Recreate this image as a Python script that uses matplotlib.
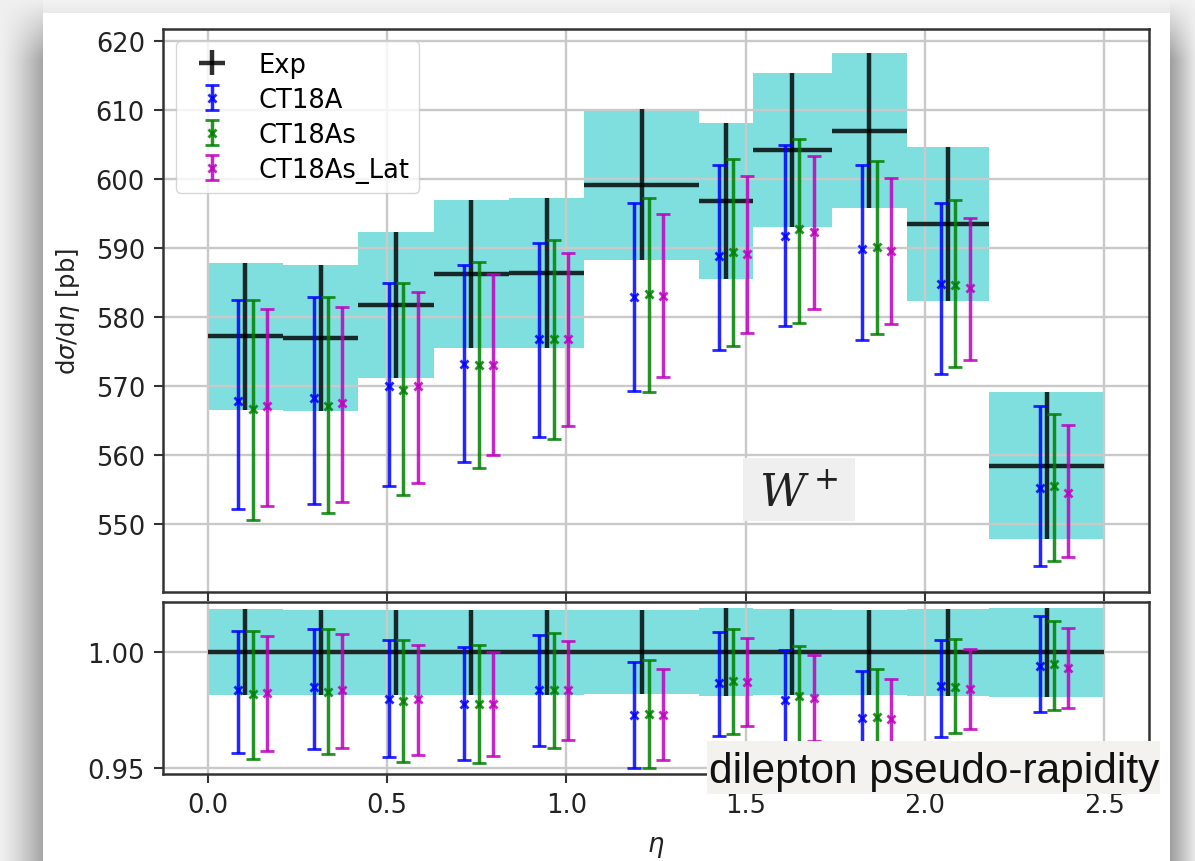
import numpy as np
import matplotlib
matplotlib.use('Agg')
import matplotlib.pyplot as plt
from matplotlib.patches import Rectangle
from matplotlib.ticker import MultipleLocator, FormatStrFormatter

# ---------------- data ----------------
bin_edges = [0.0, 0.21, 0.42, 0.63, 0.84, 1.05, 1.37, 1.52, 1.74, 1.95, 2.18, 2.5]

exp_val = [577.2, 577.0, 581.8, 586.2, 586.4, 599.2, 596.8, 604.2, 607.0, 593.5, 558.5]
exp_err = [10.7, 10.6, 10.6, 10.7, 10.8, 10.9, 11.3, 11.2, 11.2, 11.1, 10.65]

ct18a_val = [567.9, 568.3, 570.0, 573.2, 576.9, 582.9, 588.8, 591.8, 589.9, 584.8, 555.3]
ct18a_lo  = [552.2, 553.0, 555.6, 559.0, 562.7, 569.3, 575.3, 578.7, 576.7, 571.8, 544.0]
ct18a_hi  = [582.5, 582.9, 584.9, 587.6, 590.7, 596.6, 602.1, 604.9, 602.1, 596.6, 567.2]

ct18as_val = [566.7, 567.1, 569.5, 573.1, 576.9, 583.3, 589.4, 592.7, 590.1, 584.6, 555.6]
ct18as_lo  = [550.6, 551.6, 554.2, 558.1, 562.3, 569.2, 575.8, 579.2, 577.5, 572.8, 544.7]
ct18as_hi  = [582.5, 582.9, 585.0, 588.0, 591.2, 597.3, 602.9, 605.8, 602.6, 596.9, 566.0]

ct18aslat_val = [567.1, 567.5, 570.0, 573.1, 576.9, 583.1, 589.1, 592.3, 589.6, 584.2, 554.6]
ct18aslat_lo  = [552.6, 553.3, 556.0, 560.0, 564.2, 571.3, 577.7, 581.2, 579.0, 573.8, 545.2]
ct18aslat_hi  = [581.2, 581.5, 583.6, 586.3, 589.3, 594.9, 600.5, 603.4, 600.1, 594.3, 564.4]

series_names = ['CT18A', 'CT18As', 'CT18As_Lat']
series_vals = [ct18a_val, ct18as_val, ct18aslat_val]
series_los = [ct18a_lo, ct18as_lo, ct18aslat_lo]
series_his = [ct18a_hi, ct18as_hi, ct18aslat_hi]
series_colors = ['b', 'g', 'm']
series_offsets = [-0.02, 0.02, 0.06]

x_ticks = [0.0, 0.5, 1.0, 1.5, 2.0, 2.5]
ratio_ticks = [0.95, 1.00]

# ---------------- figure ----------------
W, H = 1195, 862
fig = plt.figure(figsize=(W / 100, H / 100), dpi=100)
fig.patch.set_facecolor('white')

# screenshot frame / shadow background
bg = np.ones((H, W))
xs = np.arange(W)[None, :] * np.ones((H, 1))
ys = np.arange(H)[:, None] * np.ones((1, W))
left = xs < 43
fade_top = np.clip(ys / 60.0, 0, 1)
bg[left] = (0.94 - 0.30 * (xs[left] / 43.0) ** 1.3 * fade_top[left])
top = (ys < 14) & (xs >= 43)
bg[top] = 0.955 - 0.04 * (ys[top] / 14.0)
right = xs >= 1170
bg[right] = (0.62 + 0.30 * ((xs[right] - 1170) / 25.0)) * fade_top[right] + 0.95 * (1 - fade_top[right])
bax = fig.add_axes([0, 0, 1, 1], zorder=-10)
bax.imshow(np.dstack([bg, bg, bg]), extent=(0, W, H, 0), aspect='auto', interpolation='bilinear')
bax.set_xlim(0, W)
bax.set_ylim(H, 0)
bax.axis('off')

edges = np.array(bin_edges)
centers = 0.5 * (edges[:-1] + edges[1:])
halfw = 0.5 * (edges[1:] - edges[:-1])
ev = np.array(exp_val)
ee = np.array(exp_err)

ax1 = fig.add_axes([163 / W, 1 - 593 / H, (1149 - 163) / W, (593 - 29.5) / H])
ax2 = fig.add_axes([163 / W, 1 - 775 / H, (1149 - 163) / W, (775 - 603) / H], sharex=ax1)

lw_exp = 3.2
lw_th = 2.5
cap = 5.2

for ax, ratio in [(ax1, False), (ax2, True)]:
    norm = ev if ratio else np.ones_like(ev)
    for i in range(len(centers)):
        c = ev[i] / norm[i]
        e = ee[i] / norm[i]
        ax.fill_between([edges[i], edges[i + 1]], c - e, c + e, color='c', alpha=0.5, lw=0)
    ax.errorbar(centers, ev / norm, xerr=halfw, yerr=ee / norm, fmt='none',
                ecolor='k', elinewidth=lw_exp, alpha=0.82, label='Exp')
    for name, v, lo, hi, col, off in zip(series_names, series_vals, series_los,
                                          series_his, series_colors, series_offsets):
        v = np.array(v); lo = np.array(lo); hi = np.array(hi)
        ax.errorbar(centers + off, v / norm, yerr=[(v - lo) / norm, (hi - v) / norm],
                    fmt='x', color=col, ms=6, mew=2.0, elinewidth=lw_th, capsize=cap,
                    capthick=lw_th, alpha=0.85, label=name)
    ax.grid(True, color='#c9c9c9', lw=1.7)
    for sp in ax.spines.values():
        sp.set_linewidth(1.8)
        sp.set_color('#333333')
    ax.tick_params(labelsize=18.5, length=6.5, width=1.5, color='#333333',
                   labelcolor='#222222', pad=6.5)

ax1.set_xlim(-0.125, 2.625)
ax1.set_ylim(540.2, 621.8)
ax1.yaxis.set_major_locator(MultipleLocator(10))
plt.setp(ax1.get_xticklabels(), visible=False)
ax1.set_ylabel(r'd$\sigma$/d$\eta$ [pb]', fontsize=17.5, labelpad=10, color='#222222')

ax1.legend(loc='upper left', fontsize=18.5, labelspacing=0.35)

# W+ label with its light grey box
ax1.add_patch(Rectangle((0.588, 0.126), 0.114, 0.112, transform=ax1.transAxes,
                        facecolor='#efefef', edgecolor='none', zorder=4))
ax1.text(0.645, 0.176, r'$W^+$', transform=ax1.transAxes, fontsize=32,
         ha='center', va='center', math_fontfamily='dejavuserif', color='#222222', zorder=5)

ax2.set_ylim(0.9475, 1.0217)
ax2.set_yticks(ratio_ticks)
ax2.yaxis.set_major_formatter(FormatStrFormatter('%.2f'))
ax2.set_xticks(x_ticks)
ax2.xaxis.set_major_formatter(FormatStrFormatter('%.1f'))
ax2.set_xlabel(r'$\eta$', fontsize=18.5, color='#222222', labelpad=11)

# overlay annotation from the screenshot
fig.patches.append(Rectangle((707 / W, 1 - 795 / H), (1160 - 707) / W, (795 - 742) / H,
                             transform=fig.transFigure, facecolor='#f3f2ef',
                             edgecolor='none', zorder=20))
fig.text(709 / W, 1 - 783 / H, 'dilepton pseudo-rapidity', fontsize=30.5,
         family='Liberation Sans', color='#111111', ha='left', va='baseline', zorder=21)

fig.savefig('out.png', dpi=100)
